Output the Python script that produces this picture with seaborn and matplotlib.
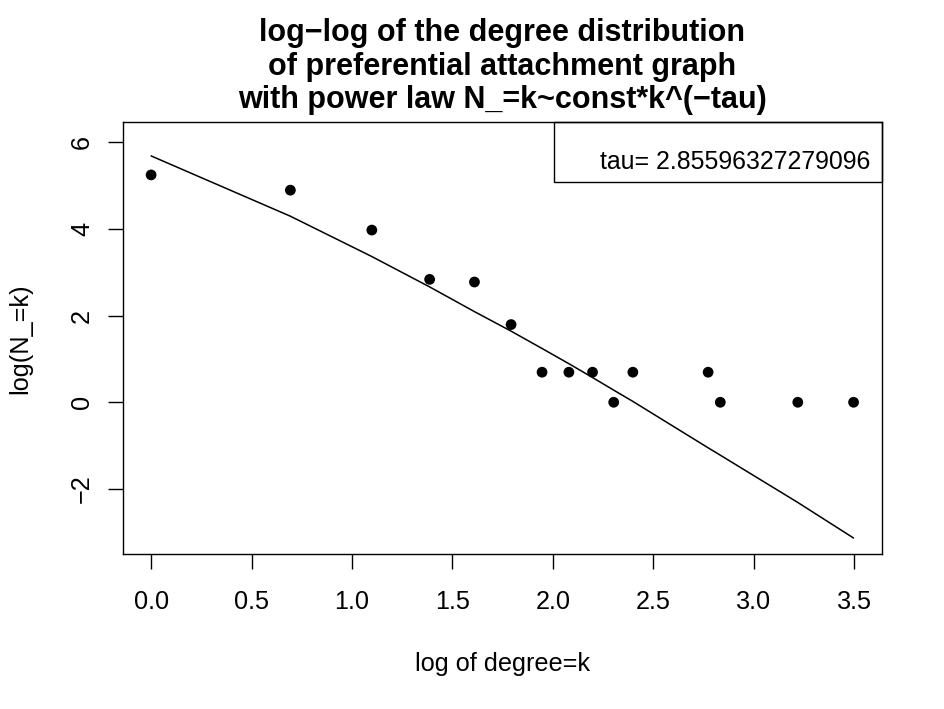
import numpy as np
import pandas as pd
import seaborn as sns
import matplotlib.pyplot as plt
from matplotlib.patches import Rectangle

# degree k and the number of nodes with that degree
degree = [1, 2, 3, 4, 5, 6, 7, 8, 9, 10, 11, 16, 17, 25, 33]
count = [189, 133, 53, 17, 16, 6, 2, 2, 2, 1, 2, 2, 1, 1, 1]

# fitted curve at each log(k)
fit_log = [5.68, 4.29, 3.36, 2.66, 2.09, 1.64, 1.24, 0.89, 0.57, 0.28,
           0.02, -1.05, -1.22, -2.31, -3.13]

tau = 2.85596327279096

df = pd.DataFrame({
    "logk": np.log(degree),
    "logN": np.log(count),
    "fit": fit_log,
})

sns.set_style("ticks")
plt.rcParams["font.family"] = ["Liberation Sans", "DejaVu Sans"]
plt.rcParams["text.color"] = "black"
plt.rcParams["axes.labelcolor"] = "black"

fig = plt.figure(figsize=(9.44, 7.09), dpi=100)
ax = fig.add_axes([0.1303, 0.2182, 0.934 - 0.1303, 0.8275 - 0.2182])

sns.scatterplot(data=df, x="logk", y="logN", color="black", s=60,
                edgecolor="none", ax=ax, zorder=3)
sns.lineplot(data=df, x="logk", y="fit", color="black", linewidth=1.1,
             ax=ax, sort=False)

ax.set_xlim(-0.1399, 3.6365)
ax.set_ylim(-3.505, 6.455)
ax.set_xticks(np.arange(0, 3.51, 0.5))
ax.set_xticklabels([f"{v:.1f}" for v in np.arange(0, 3.51, 0.5)])
ax.set_yticks([-2, 0, 2, 4, 6])

for sp in ax.spines.values():
    sp.set_visible(True)
    sp.set_color("black")
    sp.set_linewidth(1.0)

ax.tick_params(axis="both", direction="out", length=10.8, width=1.0,
               colors="black", labelsize=18.2)
ax.tick_params(axis="x", pad=15)
ax.tick_params(axis="y", pad=10, labelrotation=90)
for lab in ax.get_yticklabels():
    lab.set_va("center")

ax.set_xlabel("log of degree=k", fontsize=18.2, labelpad=27)
ax.set_ylabel("log(N_=k)", fontsize=18.2, labelpad=27)

ax.set_title("log\u2212log of the degree distribution\n"
             "of preferential attachment graph\n"
             "with power law N_=k~const*k^(\u2212tau)",
             fontsize=22, fontweight="bold", linespacing=1.17, pad=10)

# legend box in the upper right corner
ax.add_patch(Rectangle((0.5686, 0.8625), 1 - 0.5686, 1 - 0.8625,
                       transform=ax.transAxes, fill=False,
                       edgecolor="black", linewidth=1.0, clip_on=False))
ax.text(0.629, 0.8915, f"tau= {tau}", transform=ax.transAxes,
        ha="left", va="baseline", fontsize=17.9)

fig.savefig("out.png", dpi=100)
